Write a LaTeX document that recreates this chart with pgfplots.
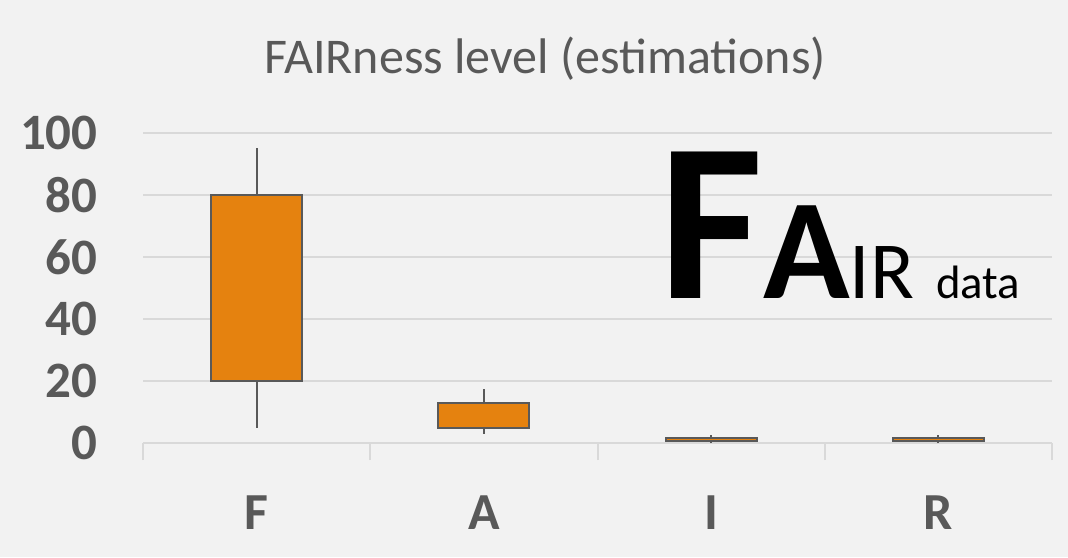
\documentclass[border=0pt]{standalone}
\usepackage{fontspec}
\setmainfont{Carlito}
\usepackage{pgfplots}
\pgfplotsset{compat=1.18}
\definecolor{bg}{HTML}{F2F2F2}
\definecolor{gridc}{HTML}{D9D9D9}
\definecolor{txt}{HTML}{595959}
\definecolor{boxc}{HTML}{E5820F}
\begin{document}
\begin{tikzpicture}
\fill[bg] (0pt,0pt) rectangle (534pt,278.5pt);
\begin{axis}[
  at={(71.5pt,57pt)}, anchor=south west,
  scale only axis, width=454.5pt, height=155pt,
  xmin=0.5, xmax=4.5, ymin=0, ymax=100,
  clip=false,
  ytick={0,20,...,100},
  xtick={1,2,3,4}, xticklabels={F,A,I,R},
  minor xtick={0.5,1.5,2.5,3.5,4.5},
  axis x line=bottom, axis y line=left,
  x axis line style={-, draw=gridc, line width=1pt},
  y axis line style={draw=none},
  tick align=outside,
  major tick length=0pt,
  minor tick length=8.5pt,
  major x tick style={draw=none},
  major y tick style={draw=none},
  minor x tick style={draw=gridc, line width=1pt},
  ymajorgrids=true,
  major y grid style={draw=gridc, line width=1pt},
  /pgf/number format/assume math mode=true,
  yticklabel style={font=\fontsize{25.5}{30}\selectfont\bfseries, text=txt, inner sep=0pt, anchor=east, xshift=-22.5pt},
  xticklabel style={font=\fontsize{26}{30}\selectfont\bfseries, text=txt, inner sep=0pt, anchor=base, yshift=-43pt},
  unbounded coords=jump,
]
% whiskers (lower whisker to upper whisker)
\addplot[draw=txt, line width=1.1pt] coordinates {
 (1,5) (1,95) (1,nan)
 (2,3) (2,17.5) (2,nan)
 (3,0) (3,2.5) (3,nan)
 (4,0) (4,2.5)
};
% boxes (lower quartile to upper quartile)
\addplot[draw=txt, fill=boxc, line width=1pt] coordinates {(0.8,20) (1.2,20) (1.2,80) (0.8,80)} -- cycle;
\addplot[draw=txt, fill=boxc, line width=1pt] coordinates {(1.8,5) (2.2,5) (2.2,13) (1.8,13)} -- cycle;
\addplot[draw=txt, fill=boxc, line width=1pt] coordinates {(2.8,0.75) (3.2,0.75) (3.2,1.5) (2.8,1.5)} -- cycle;
\addplot[draw=txt, fill=boxc, line width=1pt] coordinates {(3.8,0.75) (4.2,0.75) (4.2,1.5) (3.8,1.5)} -- cycle;
\end{axis}
\node[text=txt, font=\fontsize{25}{30}\selectfont, anchor=base] at (272.5pt,241.5pt) {FAIRness level (estimations)};
\node[anchor=base west, inner sep=0pt] at (329.5pt,129pt) {{\fontsize{113}{113}\selectfont\bfseries F}{\fontsize{71.5}{71.5}\selectfont\bfseries A}{\fontsize{40.5}{40.5}\selectfont IR}\hspace{11pt}{\fontsize{23.4}{23.4}\selectfont data}};
\end{tikzpicture}
\end{document}
